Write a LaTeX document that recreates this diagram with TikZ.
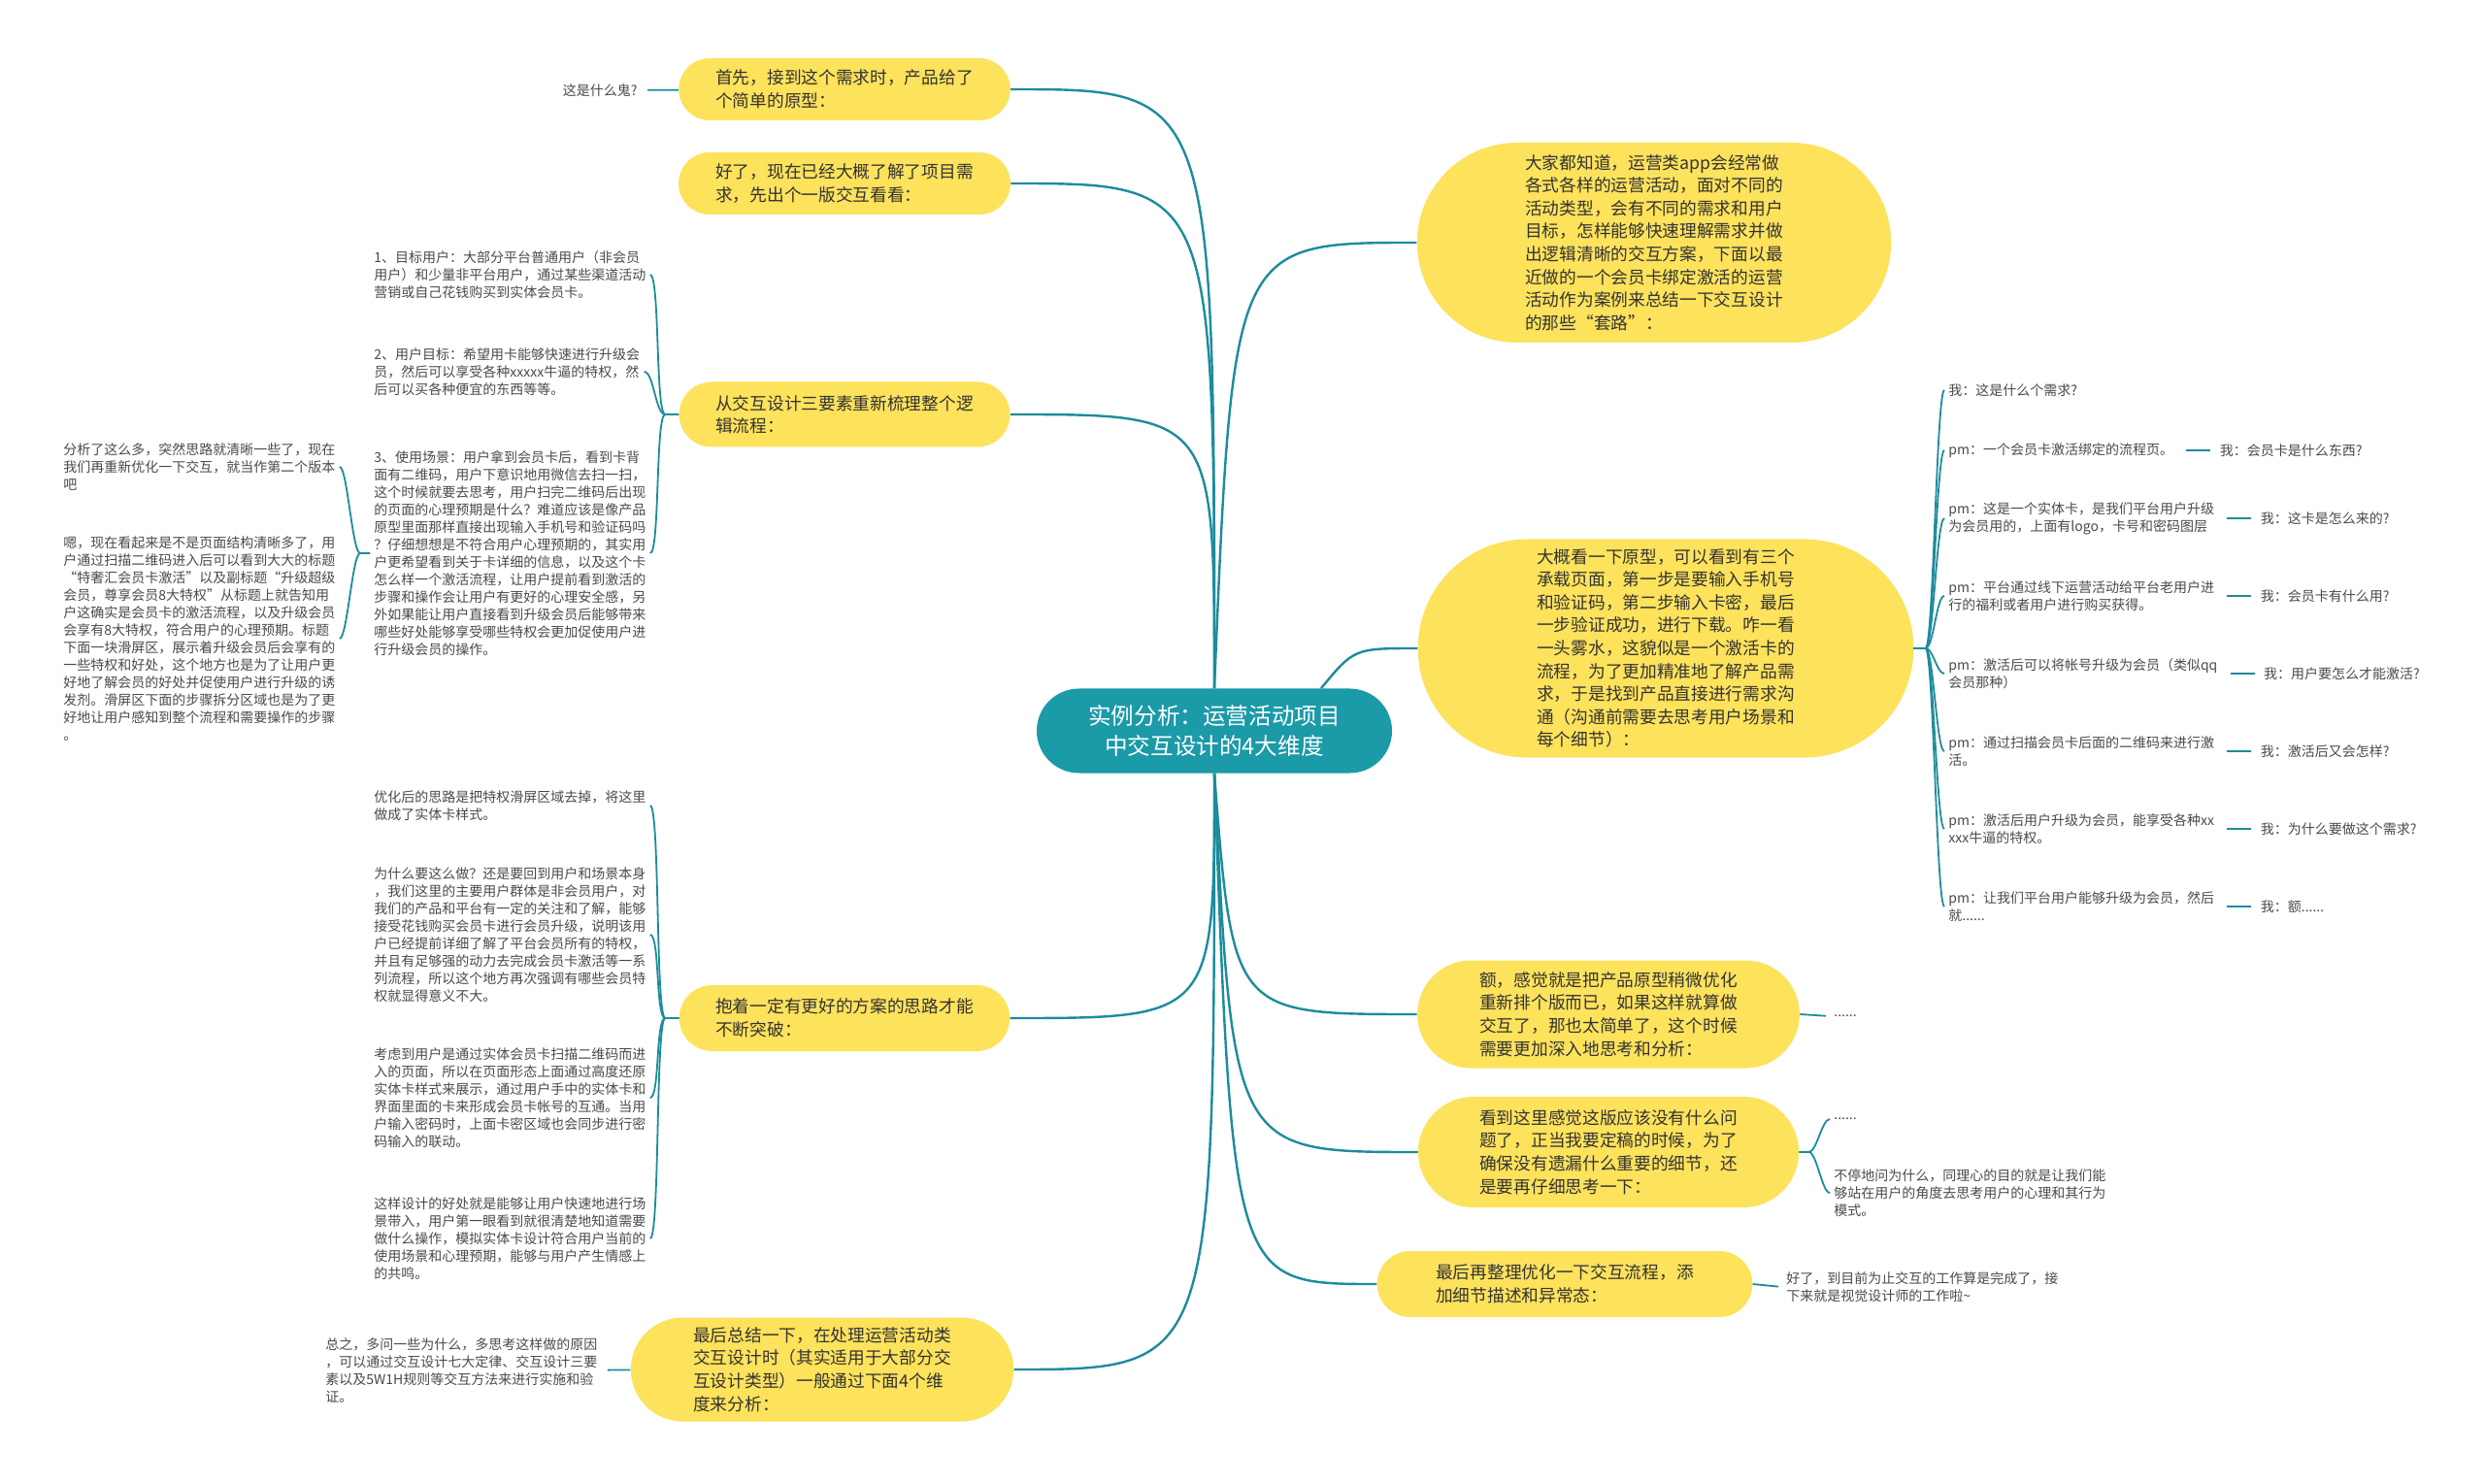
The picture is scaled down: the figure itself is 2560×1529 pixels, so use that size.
\documentclass[tikz,border=0pt]{standalone}
\usepackage{fontspec}
\setmainfont{Noto Sans CJK SC}
\usepackage{tikz}
\usetikzlibrary{positioning,shapes.misc}
\definecolor{MTeal}{HTML}{1B9AA8}
\definecolor{MLine}{HTML}{1C8C9C}
\definecolor{MYellow}{HTML}{FDE25C}
\definecolor{MInk}{HTML}{333333}
\definecolor{MGray}{HTML}{4A4A4A}

\begin{document}
\begin{tikzpicture}[
  x=0.5pt,y=-0.5pt,
  hub/.style={rounded rectangle,fill=MTeal,text=white,inner xsep=22pt,
    minimum height=43.5pt,align=center,font=\fontsize{11.8pt}{15.8pt}\selectfont},
  topic/.style={rounded rectangle,fill=MYellow,text=MInk,inner xsep=15.5pt,
    align=left,font=\fontsize{8.85pt}{11.8pt}\selectfont},
  leaf/.style={inner sep=2pt,text=MGray,align=left,font=\fontsize{7pt}{9pt}\selectfont},
  rleaf/.style={leaf},
  limb/.style={draw=MLine,line width=1.2pt},
  twig/.style={draw=MLine,line width=0.9pt}
]
  \fill[white] (0,0) rectangle (2560,1529);
  \useasboundingbox (0,0) rectangle (2560,1529);

  % centre
  \node[hub] (hub) at (1251,753) {实例分析：运营活动项目\\中交互设计的4大维度};

  % left branches
  \node[topic,minimum height=32pt] (l1) at (870,92)
    {首先，接到这个需求时，产品给了\\个简单的原型：};
  \node[topic,minimum height=32pt] (l2) at (870,189)
    {好了，现在已经大概了解了项目需\\求，先出个一版交互看看：};
  \node[topic,minimum height=33.5pt] (l3) at (870,427)
    {从交互设计三要素重新梳理整个逻\\辑流程：};
  \node[topic,minimum height=34pt] (l4) at (870,1049)
    {抱着一定有更好的方案的思路才能\\不断突破：};
  \node[topic,minimum height=53.5pt,inner xsep=21pt] (l5) at (847,1411)
    {最后总结一下，在处理运营活动类\\交互设计时（其实适用于大部分交\\互设计类型）一般通过下面4个维\\度来分析：};

  % right branches
  \node[topic,minimum height=103pt,inner xsep=28.5pt] (r1) at (1704,250)
    {大家都知道，运营类app会经常做\\各式各样的运营活动，面对不同的\\活动类型，会有不同的需求和用户\\目标，怎样能够快速理解需求并做\\出逻辑清晰的交互方案，下面以最\\近做的一个会员卡绑定激活的运营\\活动作为案例来总结一下交互设计\\的那些“套路”：};
  \node[topic,minimum height=112.5pt,inner xsep=28pt] (r2) at (1716,668)
    {大概看一下原型，可以看到有三个\\承载页面，第一步是要输入手机号\\和验证码，第二步输入卡密，最后\\一步验证成功，进行下载。咋一看\\一头雾水，这貌似是一个激活卡的\\流程，为了更加精准地了解产品需\\求，于是找到产品直接进行需求沟\\通（沟通前需要去思考用户场景和\\每个细节）：};
  \node[topic,minimum height=55.5pt,inner xsep=21.5pt] (r3) at (1657,1045)
    {额，感觉就是把产品原型稍微优化\\重新排个版而已，如果这样就算做\\交互了，那也太简单了，这个时候\\需要更加深入地思考和分析：};
  \node[topic,minimum height=57pt,inner xsep=21.5pt] (r4) at (1657,1187)
    {看到这里感觉这版应该没有什么问\\题了，正当我要定稿的时候，为了\\确保没有遗漏什么重要的细节，还\\是要再仔细思考一下：};
  \node[topic,minimum height=34pt,inner xsep=27pt] (r5) at (1612,1323)
    {最后再整理优化一下交互流程，添\\加细节描述和异常态：};

  \foreach \t/\y in {l1/92,l2/189,l3/427}
    {\draw[limb] (hub.north) .. controls (1251,\y) .. (\t.east);}
  \foreach \t/\y in {l4/1049,l5/1411}
    {\draw[limb] (hub.south) .. controls (1251,\y) .. (\t.east);}
  \draw[limb] (hub.north) .. controls (1270,250) .. (r1.west);
  \draw[limb] ([xshift=55pt]hub.north) .. controls (1395,668) .. (r2.west);
  \foreach \t/\y in {r3/1045,r4/1187,r5/1323}
    {\draw[limb] (hub.south) .. controls (1270,\y) .. (\t.west);}

  % left leaves
  \node[leaf,anchor=east] (a1) at (661,93) {这是什么鬼?};
  \node[leaf,anchor=west] (t1) at (381,283)
    {1、目标用户：大部分平台普通用户（非会员\\用户）和少量非平台用户，通过某些渠道活动\\营销或自己花钱购买到实体会员卡。};
  \node[leaf,anchor=west] (t2) at (381,383)
    {2、用户目标：希望用卡能够快速进行升级会\\员，然后可以享受各种xxxxx牛逼的特权，然\\后可以买各种便宜的东西等等。};
  \node[leaf,anchor=west] (t3) at (381,570)
    {3、使用场景：用户拿到会员卡后，看到卡背\\面有二维码，用户下意识地用微信去扫一扫，\\这个时候就要去思考，用户扫完二维码后出现\\的页面的心理预期是什么？难道应该是像产品\\原型里面那样直接出现输入手机号和验证码吗\\？仔细想想是不符合用户心理预期的，其实用\\户更希望看到关于卡详细的信息，以及这个卡\\怎么样一个激活流程，让用户提前看到激活的\\步骤和操作会让用户有更好的心理安全感，另\\外如果能让用户直接看到升级会员后能够带来\\哪些好处能够享受哪些特权会更加促使用户进\\行升级会员的操作。};
  \node[leaf,anchor=west] (f1) at (61,481)
    {分析了这么多，突然思路就清晰一些了，现在\\我们再重新优化一下交互，就当作第二个版本\\吧};
  \node[leaf,anchor=west] (f2) at (61,658)
    {嗯，现在看起来是不是页面结构清晰多了，用\\户通过扫描二维码进入后可以看到大大的标题\\“特奢汇会员卡激活”以及副标题“升级超级\\会员，尊享会员8大特权”从标题上就告知用\\户这确实是会员卡的激活流程，以及升级会员\\会享有8大特权，符合用户的心理预期。标题\\下面一块滑屏区，展示着升级会员后会享有的\\一些特权和好处，这个地方也是为了让用户更\\好地了解会员的好处并促使用户进行升级的诱\\发剂。滑屏区下面的步骤拆分区域也是为了更\\好地让用户感知到整个流程和需要操作的步骤\\。};
  \node[leaf,anchor=west] (c1) at (381,830)
    {优化后的思路是把特权滑屏区域去掉，将这里\\做成了实体卡样式。};
  \node[leaf,anchor=west] (c2) at (381,963)
    {为什么要这么做？还是要回到用户和场景本身\\，我们这里的主要用户群体是非会员用户，对\\我们的产品和平台有一定的关注和了解，能够\\接受花钱购买会员卡进行会员升级，说明该用\\户已经提前详细了解了平台会员所有的特权，\\并且有足够强的动力去完成会员卡激活等一系\\列流程，所以这个地方再次强调有哪些会员特\\权就显得意义不大。};
  \node[leaf,anchor=west] (c3) at (381,1131)
    {考虑到用户是通过实体会员卡扫描二维码而进\\入的页面，所以在页面形态上面通过高度还原\\实体卡样式来展示，通过用户手中的实体卡和\\界面里面的卡来形成会员卡帐号的互通。当用\\户输入密码时，上面卡密区域也会同步进行密\\码输入的联动。};
  \node[leaf,anchor=west] (c4) at (381,1276)
    {这样设计的好处就是能够让用户快速地进行场\\景带入，用户第一眼看到就很清楚地知道需要\\做什么操作，模拟实体卡设计符合用户当前的\\使用场景和心理预期，能够与用户产生情感上\\的共鸣。};
  \node[leaf,anchor=west] (s1) at (331,1412)
    {总之，多问一些为什么，多思考这样做的原因\\，可以通过交互设计七大定律、交互设计三要\\素以及5W1H规则等交互方法来进行实施和验\\证。};

  \draw[twig,shorten <=3pt] (a1) -- (l1);
  \foreach \c in {t1,t2,t3}
    {\draw[twig] (l3.west) -- ++(-14,0) .. controls +(-10,0) and +(10,0) .. (\c.east);}
  \foreach \c in {f1,f2}
    {\draw[twig] (t3.west) -- ++(-10,0) .. controls +(-8,0) and +(8,0) .. (\c.east);}
  \foreach \c in {c1,c2,c3,c4}
    {\draw[twig] (l4.west) -- ++(-14,0) .. controls +(-10,0) and +(10,0) .. (\c.east);}
  \draw[twig,shorten <=3pt] (s1) -- (l5);

  % right leaves
  \node[rleaf,anchor=west] (q0) at (2003,402) {我：这是什么个需求?};
  \node[rleaf,anchor=west] (p1) at (2003,464) {pm：一个会员卡激活绑定的流程页。};
  \node[rleaf,anchor=west] (p2) at (2003,534)
    {pm：这是一个实体卡，是我们平台用户升级\\为会员用的，上面有logo，卡号和密码图层};
  \node[rleaf,anchor=west] (p3) at (2003,614)
    {pm：平台通过线下运营活动给平台老用户进\\行的福利或者用户进行购买获得。};
  \node[rleaf,anchor=west] (p4) at (2003,694)
    {pm：激活后可以将帐号升级为会员（类似qq\\会员那种）};
  \node[rleaf,anchor=west] (p5) at (2003,774)
    {pm：通过扫描会员卡后面的二维码来进行激\\活。};
  \node[rleaf,anchor=west] (p6) at (2003,854)
    {pm：激活后用户升级为会员，能享受各种xx\\xxx牛逼的特权。};
  \node[rleaf,anchor=west] (p7) at (2003,934)
    {pm：让我们平台用户能够升级为会员，然后\\就......};
  \node[rleaf,right=19.5pt of p1] (m1) {我：会员卡是什么东西?};
  \node[rleaf,right=19.5pt of p2] (m2) {我：这卡是怎么来的?};
  \node[rleaf,right=19.5pt of p3] (m3) {我：会员卡有什么用?};
  \node[rleaf,right=19.5pt of p4] (m4) {我：用户要怎么才能激活?};
  \node[rleaf,right=19.5pt of p5] (m5) {我：激活后又会怎样?};
  \node[rleaf,right=19.5pt of p6] (m6) {我：为什么要做这个需求?};
  \node[rleaf,right=19.5pt of p7] (m7) {我：额......};

  \node[rleaf,anchor=west] (d1) at (1885,1047) {......};
  \node[rleaf,anchor=west] (d2) at (1885,1153) {......};
  \node[rleaf,anchor=west] (d3) at (1885,1229)
    {不停地问为什么，同理心的目的就是让我们能\\够站在用户的角度去思考用户的心理和其行为\\模式。};
  \node[rleaf,anchor=west] (d4) at (1836,1326)
    {好了，到目前为止交互的工作算是完成了，接\\下来就是视觉设计师的工作啦\textasciitilde};

  \foreach \c in {q0,p1,p2,p3,p4,p5,p6,p7}
    {\draw[twig] (r2.east) -- ++(12,0) .. controls +(8,0) and +(-8,0) .. (\c.west);}
  \foreach \i in {1,...,7}
    {\draw[twig,shorten <=4.5pt,shorten >=2.5pt] (p\i.east) -- (m\i.west);}
  \draw[twig,shorten >=2pt] (r3.east) -- (d1.west);
  \foreach \c in {d2,d3}
    {\draw[twig] (r4.east) -- ++(10,0) .. controls +(8,0) and +(-8,0) .. (\c.west);}
  \draw[twig,shorten >=2pt] (r5.east) -- (d4.west);
\end{tikzpicture}
\end{document}
